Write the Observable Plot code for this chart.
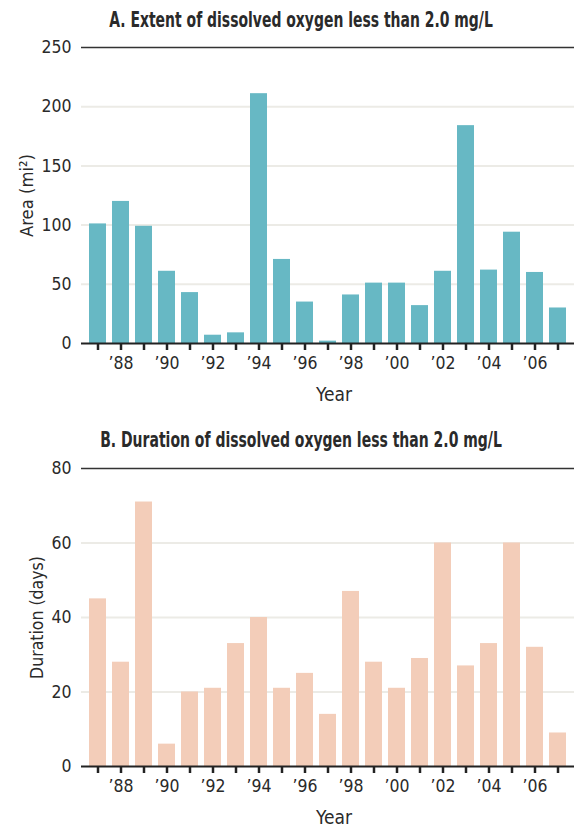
<!DOCTYPE html>
<html>
<head>
<meta charset="utf-8">
<script src="https://cdn.jsdelivr.net/npm/d3@7"></script>
<script src="https://cdn.jsdelivr.net/npm/@observablehq/plot@0.6"></script>
<style>
  html, body { margin: 0; padding: 0; background: #fff; }
  #wrap { width: 574px; height: 829px; position: relative; overflow: hidden; }
  #wrap svg { display: block; }
</style>
</head>
<body>
<div id="wrap"></div>
<script>
const years = d3.range(1987, 2008);
const areaValues = [101, 120, 99, 61, 43, 7, 9, 211, 71, 35, 2, 41, 51, 51, 32, 61, 184, 62, 94, 60, 30];
const durationValues = [45, 28, 71, 6, 20, 21, 33, 40, 21, 25, 14, 47, 28, 21, 29, 60, 27, 33, 60, 32, 9];
const areaTicks = [0, 50, 100, 150, 200, 250];
const durationTicks = [0, 20, 40, 60, 80];
const yearLabelFormat = d => d % 2 === 0 ? "\u2019" + String(d).slice(2) : "";

const FONT = "'DejaVu Sans Condensed', 'Liberation Sans Narrow', sans-serif";
const TEXT = "#2a2a2a";

function panel({values, ticks, max, title, ylabel, color, height, marginTop, marginBottom, titleDy, ylabelDx}) {
  const data = years.map((y, i) => ({year: y, value: values[i]}));
  return Plot.plot({
    width: 574,
    height,
    marginTop,
    marginBottom,
    marginLeft: 81,
    marginRight: 0,
    style: {fontFamily: FONT, fontSize: "17px", color: TEXT, background: "#fff", overflow: "visible"},
    x: {type: "band", domain: years, paddingInner: 0.27, paddingOuter: 0.2},
    y: {domain: [0, max], ticks},
    marks: [
      Plot.gridY(ticks.filter(t => t > 0 && t < max), {stroke: "#ecebe6", strokeWidth: 2, strokeOpacity: 1}),
      Plot.barY(data, {x: "year", y: "value", fill: color}),
      Plot.ruleY([max], {stroke: "#333", strokeWidth: 1.5}),
      Plot.ruleX([0], {frameAnchor: "left", stroke: "#222", strokeWidth: 2}),
      Plot.ruleY([0], {stroke: "#222", strokeWidth: 2}),
      Plot.axisY({ticks, tickSize: 0, tickPadding: 10, label: null, fontSize: 17.5}),
      Plot.axisX({ticks: years, tickSize: 7, tickPadding: 6, tickFormat: yearLabelFormat, label: null, stroke: "#222", strokeWidth: 2.5, fontSize: 17.5}),
      Plot.text([title], {frameAnchor: "top", dy: titleDy, dx: -27, fontWeight: "bold", fontSize: 21, fill: TEXT, textAnchor: "middle", lineAnchor: "middle", className: "ttl"}),
      Plot.text([ylabel], {frameAnchor: "left", dx: ylabelDx, rotate: -90, fontSize: 18, fill: TEXT, textAnchor: "middle", lineAnchor: "middle", className: "ylab"}),
      Plot.text(["Year"], {frameAnchor: "bottom", dy: 51, dx: 6, fontSize: 19, fill: TEXT, textAnchor: "middle", lineAnchor: "middle"})
    ]
  });
}

function squeeze(svg, selector, target) {
  svg.querySelectorAll(selector).forEach(t => {
    const len = t.getComputedTextLength();
    if (len > 0) {
      const tr = t.getAttribute("transform") || "";
      t.setAttribute("transform", tr + ` scale(${target / len},1)`);
    }
  });
}

const wrap = document.getElementById("wrap");
const svgA = panel({
  values: areaValues, ticks: areaTicks, max: 250,
  title: "A. Extent of dissolved oxygen less than 2.0 mg/L",
  ylabel: "Area (mi\u00b2)", color: "#67b8c4",
  height: 420, marginTop: 47, marginBottom: 77, titleDy: -27, ylabelDx: -54
});
const svgB = panel({
  values: durationValues, ticks: durationTicks, max: 80,
  title: "B. Duration of dissolved oxygen less than 2.0 mg/L",
  ylabel: "Duration (days)", color: "#f3cdb9",
  height: 409, marginTop: 48, marginBottom: 63, titleDy: -28, ylabelDx: -44
});
wrap.appendChild(svgA);
wrap.appendChild(svgB);
squeeze(svgA, ".ttl text", 384);
squeeze(svgA, ".ylab text", 83);
squeeze(svgB, ".ttl text", 402);
squeeze(svgB, ".ylab text", 123);
</script>
</body>
</html>
